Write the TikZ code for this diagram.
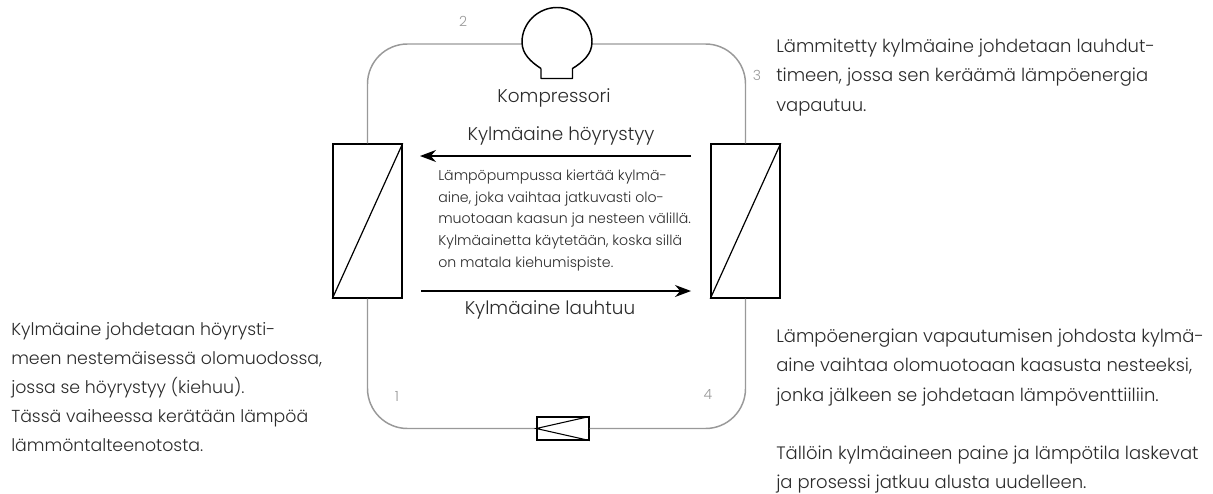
\documentclass[tikz,border=0pt]{standalone}
\usepackage{fontspec}
\setmainfont[UprightFont=* Light]{Poppins}
\usetikzlibrary{arrows.meta}
\definecolor{pipegray}{HTML}{999999}
\definecolor{textgray}{HTML}{2B2B2B}
\tikzset{
	pipe/.style={draw=pipegray,line width=1.1pt,rounded corners=30pt},
	part/.style={draw=black,line width=1.1pt,fill=white,inner sep=0pt,minimum width=51.75pt,minimum height=115.5pt},
	flow/.style={draw=black,line width=1pt,-{Stealth[length=12pt,width=9pt]}},
	big/.style={text=textgray,align=left,anchor=west,inner sep=0pt,font=\fontsize{13.5}{21.9}\selectfont},
	small/.style={text=textgray,align=left,anchor=west,inner sep=0pt,font=\fontsize{10.6}{16.2}\selectfont},
	lab/.style={text=textgray,anchor=center,inner sep=0pt,font=\fontsize{13.8}{16}\selectfont},
	num/.style={text=pipegray,anchor=center,inner sep=0pt,font=\fontsize{10.5}{12}\selectfont}
}
\begin{document}
\begin{tikzpicture}[x=.75pt,y=-.75pt]
	\useasboundingbox (0,0) rectangle (1213,493);
	\node[part] (evap) at (367.5,221) {};
	\node[part] (cond) at (745.5,221) {};
	\node[part,minimum width=39pt,minimum height=17pt] (valve) at (563,428.5) {};
	\coordinate (compw) at (522,44);
	\coordinate (compe) at (592,44);
	% pipes
	\draw[pipe] (evap.north) |- (compw);
	\draw[pipe] (cond.north) |- (compe);
	\draw[pipe] (evap.south) |- (valve.west);
	\draw[pipe] (cond.south) |- (valve.east);
	% compressor
	\draw[line width=1.1pt,fill=white,line join=round] (541,68.5)--(541,78.5)--(572.5,78.5)--(572.5,68.5)
		.. controls (583,62) and (592,54) .. (592,42)
		.. controls (592,23) and (576,7.5) .. (557,7.5)
		.. controls (538,7.5) and (522,23) .. (522,42)
		.. controls (522,54) and (531,62) .. (541,68.5);
	% inner lines
	\draw[line width=.9pt] (evap.south west)--(evap.north east);
	\draw[line width=.9pt] (cond.south west)--(cond.north east);
	\draw[line width=.8pt] (valve.north east)--(valve.west)--(valve.south east);
	\coordinate (topa) at (691,156);
	\coordinate (topb) at (420,156);
	\coordinate (bota) at (421,291);
	\coordinate (botb) at (691,291);
	\draw[flow] (topa)--(topb);
	\draw[flow] (bota)--(botb);
	\node[lab] (compname) at (554,98) {Kompressori};
	\node[lab] (upper) at (561,136) {Kylmäaine höyrystyy};
	\node[lab] (lower) at (550,310) {Kylmäaine lauhtuu};
	\node[num] (n1) at (397,396) {1};
	\node[num] (n2) at (463,21) {2};
	\node[num] (n3) at (757,75) {3};
	\node[num] (n4) at (708,395) {4};
	\node[small] (middle) at (438,220.5) {Lämpöpumpussa kiertää kylmä-\\aine, joka vaihtaa jatkuvasti olo-\\muotoaan kaasun ja nesteen välillä.\\Kylmäainetta käytetään, koska sillä\\on matala kiehumispiste.};
	\node[big,font=\fontsize{13}{21.9}\selectfont] (left) at (11,387) {Kylmäaine johdetaan höyrysti-\\meen nestemäisessä olomuodossa,\\jossa se höyrystyy (kiehuu).\\Tässä vaiheessa kerätään lämpöä\\lämmöntalteenotosta.};
	\node[big] (right1) at (776,77.5) {Lämmitetty kylmäaine johdetaan lauhdut-\\timeen, jossa sen keräämä lämpöenergia\\vapautuu.};
	\node[big] (right2) at (776,367.5) {Lämpöenergian vapautumisen johdosta kylmä-\\aine vaihtaa olomuotoaan kaasusta nesteeksi,\\jonka jälkeen se johdetaan lämpöventtiiliin.};
	\node[big] (right3) at (776,469.5) {Tällöin kylmäaineen paine ja lämpötila laskevat\\ja prosessi jatkuu alusta uudelleen.};
\end{tikzpicture}
\end{document}
